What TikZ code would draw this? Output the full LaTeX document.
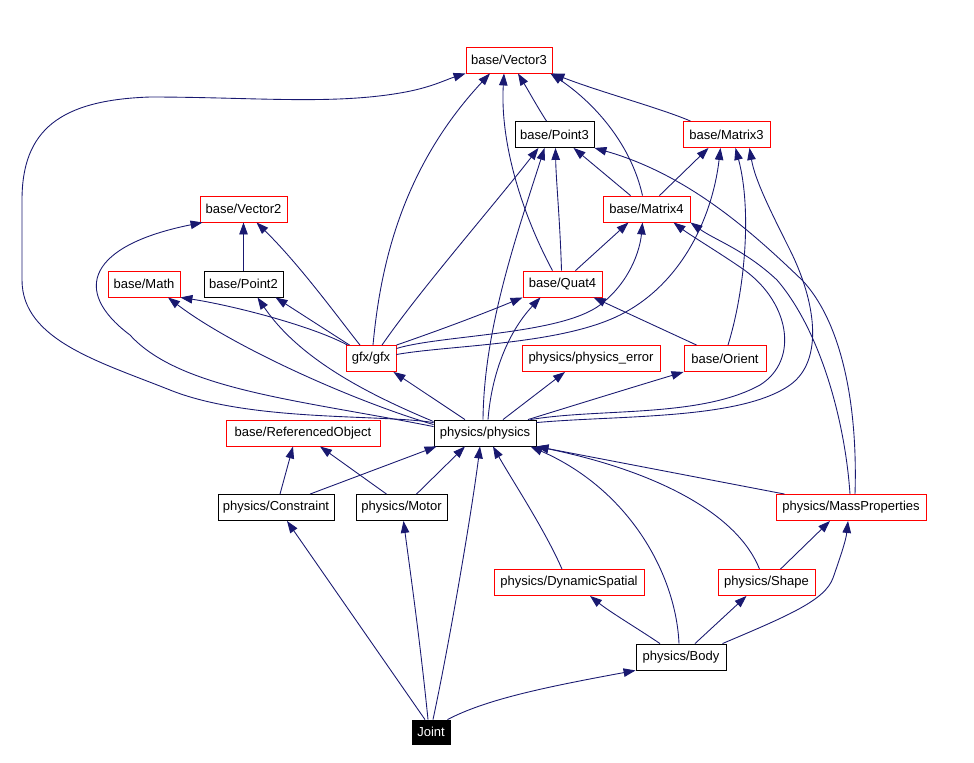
\documentclass[tikz,border=0pt]{standalone}
\usepackage{fontspec}
\setmainfont{Liberation Sans}
\usetikzlibrary{arrows.meta,calc}
\definecolor{edgec}{HTML}{191970}
\definecolor{redc}{HTML}{FF0000}
\tikzset{
  file/.style={draw, line width=0.5pt, minimum height=26*0.02cm, inner sep=0pt, font=\fontsize{7.4}{9}\selectfont},
  ext/.style={file, draw=redc},
  loc/.style={file, draw=black},
  root/.style={file, fill=black, text=white},
  wd/.style={minimum width=#1*0.02cm},
  dep/.style={draw=edgec, line width=0.5pt, -{Triangle[length=0.24cm,width=0.17cm]}},
}
\begin{document}
\begin{tikzpicture}[x=0.02cm,y=-0.02cm]
\useasboundingbox (0,0) rectangle (974,762);
% files
\node[ext,wd=86] (vec3) at (509,60) {base/Vector3};
\node[loc,wd=79] (pt3) at (554.5,134.5) {base/Point3};
\node[ext,wd=87] (mat3) at (726.5,134.5) {base/Matrix3};
\node[ext,wd=87] (vec2) at (243.5,209) {base/Vector2};
\node[ext,wd=87] (mat4) at (646.5,209) {base/Matrix4};
\node[ext,wd=72] (math) at (144,284) {base/Math};
\node[loc,wd=79] (pt2) at (243.5,284) {base/Point2};
\node[ext,wd=79] (quat4) at (562.5,284) {base/Quat4};
\node[ext,wd=50] (gfx) at (371,358.5) {gfx/gfx};
\node[ext,wd=138] (perr) at (591,358.5) {physics/physics\_error};
\node[ext,wd=82] (orient) at (725,358.5) {base/Orient};
\node[loc,wd=102] (phys) at (485,433) {physics/physics};
\node[ext,wd=154] (refobj) at (303,433) {base/ReferencedObject};
\node[loc,wd=116] (constr) at (276,507.5) {physics/Constraint};
\node[loc,wd=91] (motor) at (401.5,507.5) {physics/Motor};
\node[ext,wd=150] (mass) at (851,507.5) {physics/MassProperties};
\node[ext,wd=150] (dyn) at (569,582.5) {physics/DynamicSpatial};
\node[ext,wd=97] (shape) at (766.5,582.5) {physics/Shape};
\node[loc,wd=90] (body) at (681,657) {physics/Body};
\node[root,wd=38,minimum height=24*0.02cm] (joint) at (431,732) {Joint};
% Joint
\draw[dep] ($(joint.north)+(-6,0)$) -- ($(constr.south)+(11,0)$);
\draw[dep] ($(joint.north)+(-3,0)$) .. controls (420,640) and (410,570) .. ($(motor.south)+(2,0)$);
\draw[dep] ($(joint.north)+(2,0)$) .. controls (450,640) and (472,510) .. ($(phys.south)+(-5,0)$);
\draw[dep] ($(joint.north east)+(-3,0)$) .. controls (485,700) and (540,688) .. (body.south west);
% Body
\draw[dep] ($(body.north)+(-21,0)$) .. controls (640,630) and (610,612) .. ($(dyn.south)+(21,0)$);
\draw[dep] ($(body.north)+(-2,0)$) .. controls (676,575) and (630,490) .. ($(phys.south east)+(-6,0)$);
\draw[dep] ($(body.north)+(14,0)$) -- ($(shape.south)+(-20,0)$);
\draw[dep] ($(body.north east)+(-4,0)$) .. controls (790,615) and (825,600) .. (833,578) .. controls (841,555) and (846,540) .. ($(mass.south)+(-3,0)$);
% Shape, MassProperties, DynamicSpatial
\draw[dep] ($(shape.north)+(14,0)$) -- ($(mass.south)+(-21,0)$);
\draw[dep] ($(shape.north)+(-7,0)$) .. controls (738,515) and (660,472) .. (phys.south east);
\draw[dep] ($(mass.north west)+(9,0)$) -- (phys.south east);
\draw[dep] ($(mass.north)+(-1,0)$) .. controls (845,420) and (820,330) .. (777,280) .. controls (745,250) and (715,240) .. (mat4.south east);
\draw[dep] ($(mass.north)+(4,0)$) .. controls (858,400) and (840,320) .. (802,280) .. controls (755,235) and (690,175) .. (pt3.south east);
\draw[dep] ($(dyn.north)+(-7,0)$) .. controls (545,530) and (512,480) .. ($(phys.south)+(8,0)$);
% Constraint, Motor
\draw[dep] ($(constr.north)+(4,0)$) -- ($(refobj.south)+(-10,0)$);
\draw[dep] ($(constr.north)+(34,0)$) -- ($(phys.south west)+(3,0)$);
\draw[dep] ($(motor.north)+(-15,0)$) -- ($(refobj.south)+(17,0)$);
\draw[dep] ($(motor.north)+(15,0)$) -- ($(phys.south)+(-20,0)$);
% physics
\draw[dep] ($(phys.north)+(18,0)$) -- ($(perr.south)+(-26,0)$);
\draw[dep] ($(phys.north)+(43,0)$) .. controls (575,405) and (640,385) .. (orient.south west);
\draw[dep] ($(phys.north)+(-20,0)$) -- ($(gfx.south east)+(-3,0)$);
\draw[dep] ($(phys.north)+(3,0)$) .. controls (492,370) and (510,330) .. ($(quat4.south)+(-22,0)$);
\draw[dep] ($(phys.north)+(-2,0)$) .. controls (484,330) and (515,240) .. ($(pt3.south)+(-10,0)$);
\draw[dep] ($(phys.north east)+(-6,0)$) .. controls (600,408) and (700,418) .. (760,385) .. controls (800,360) and (790,300) .. (740,267) .. controls (715,250) and (690,235) .. ($(mat4.south)+(27,0)$);
\draw[dep] ($(phys.north east)+(0,3)$) .. controls (620,415) and (740,420) .. (790,385) .. controls (825,360) and (815,300) .. (790,250) .. controls (770,210) and (755,180) .. ($(mat3.south)+(23,0)$);
\draw[dep] ($(phys.north west)+(0,2)$) .. controls (370,395) and (300,360) .. ($(pt2.south)+(14,0)$);
\draw[dep] ($(phys.north west)+(0,5)$) .. controls (350,400) and (230,345) .. ($(math.south)+(24,0)$);
\draw[dep] ($(phys.north west)+(0,7)$) .. controls (300,400) and (180,390) .. (130,335) .. controls (70,290) and (90,245) .. ($(vec2.south west)+(3,0)$);
\draw[dep] ($(phys.north west)+(0,3)$) .. controls (380,414) and (250,422) .. (170,390) .. controls (100,362) and (22,340) .. (22,280) -- (22,200) .. controls (22,130) and (60,100) .. (150,97) .. controls (250,97) and (330,105) .. (400,93) .. controls (430,88) and (445,80) .. (vec3.south west);
% gfx
\draw[dep] ($(gfx.north west)+(2,0)$) .. controls (310,325) and (230,305) .. (math.south east);
\draw[dep] ($(gfx.north west)+(4,0)$) -- ($(pt2.south)+(32,0)$);
\draw[dep] ($(gfx.north)+(-11,0)$) .. controls (340,320) and (300,265) .. ($(vec2.south)+(13,0)$);
\draw[dep] ($(gfx.north)+(2,0)$) .. controls (380,270) and (400,170) .. ($(vec3.south)+(-19,0)$);
\draw[dep] ($(gfx.north)+(11,0)$) .. controls (420,290) and (490,210) .. ($(pt3.south)+(-16,0)$);
\draw[dep] (gfx.north east) .. controls (440,330) and (480,315) .. (quat4.south west);
\draw[dep] ($(gfx.east)+(0,-10)$) .. controls (440,335) and (560,335) .. (600,305) .. controls (630,282) and (640,250) .. ($(mat4.south)+(-4,0)$);
\draw[dep] ($(gfx.east)+(0,-4)$) .. controls (450,345) and (560,345) .. (620,315) .. controls (680,285) and (712,220) .. ($(mat3.south)+(-6,0)$);
% Orient, Quat4
\draw[dep] ($(orient.north)+(3,0)$) .. controls (745,290) and (752,210) .. ($(mat3.south)+(9,0)$);
\draw[dep] ($(orient.north west)+(13,0)$) -- ($(quat4.south)+(31,0)$);
\draw[dep] ($(quat4.north)+(-1,0)$) .. controls (560,220) and (556,180) .. ($(pt3.south)+(1,0)$);
\draw[dep] ($(quat4.north)+(-10,0)$) .. controls (520,210) and (500,140) .. ($(vec3.south)+(-5,0)$);
\draw[dep] ($(quat4.north)+(13,0)$) -- ($(mat4.south)+(-18,0)$);
% Point2, Point3, Matrix4, Matrix3
\draw[dep] (pt2.north) -- (vec2.south);
\draw[dep] ($(pt3.north)+(-8,0)$) .. controls (538,108) and (528,90) .. ($(vec3.south)+(9,0)$);
\draw[dep] ($(mat4.north)+(-4,0)$) .. controls (630,140) and (590,100) .. ($(vec3.south east)+(-2,0)$);
\draw[dep] ($(mat4.north)+(-16,0)$) -- ($(pt3.south)+(19,0)$);
\draw[dep] ($(mat4.north)+(13,0)$) -- ($(mat3.south)+(-18,0)$);
\draw[dep] ($(mat3.north)+(-36,0)$) .. controls (660,108) and (600,92) .. (vec3.south east);
\end{tikzpicture}
\end{document}
